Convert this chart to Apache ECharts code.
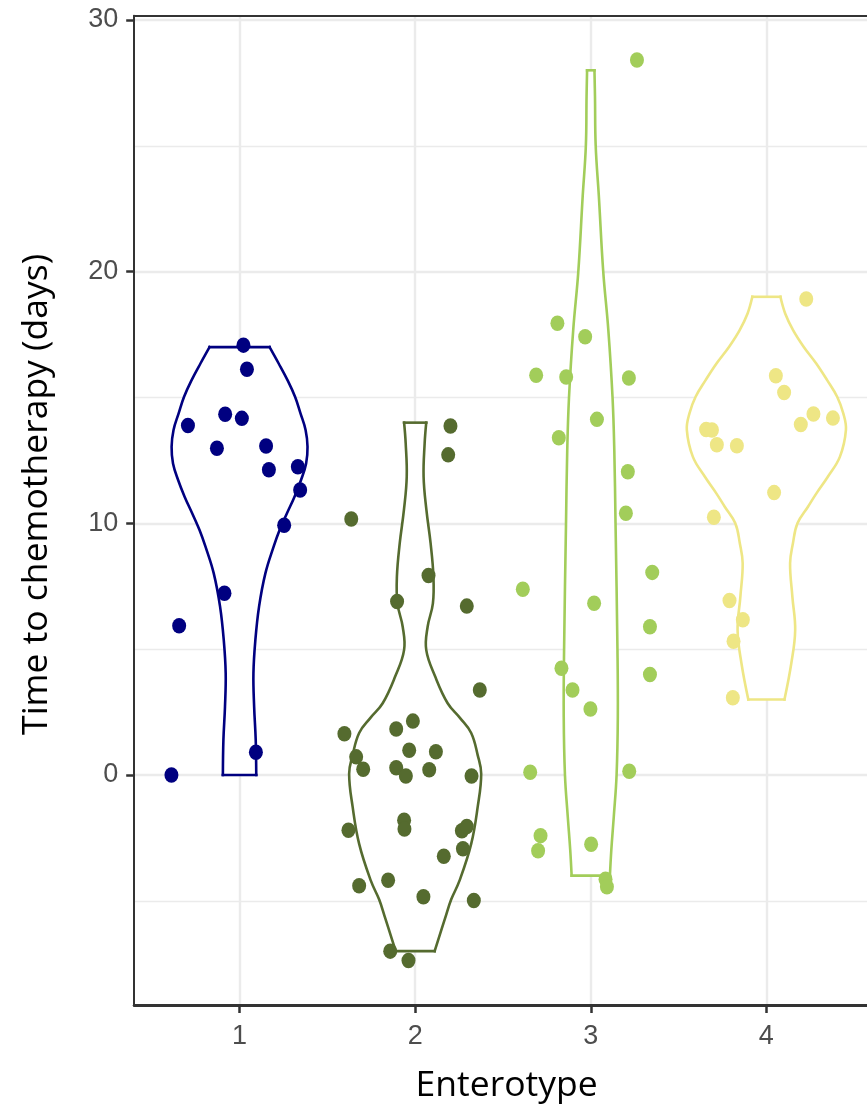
<!DOCTYPE html>
<html>
<head>
<meta charset="utf-8">
<script src="https://cdn.jsdelivr.net/npm/echarts@6/dist/echarts.min.js"></script>
<style>
  html, body { margin: 0; padding: 0; background: #ffffff; }
  #chart { width: 867px; height: 1106px; }
</style>
</head>
<body>
<div id="chart"></div>
<script>
// Enterotype groups and their colours
const enterotypes = [1, 2, 3, 4];
const groupColors = ['#000080', '#556B2F', '#A2CD5A', '#EEE685'];

// Axis breaks
const xTicks = [1, 2, 3, 4];
const yTicks = [0, 10, 20, 30];
const yMinorTicks = [-5, 5, 15, 25];

// Patients: jittered enterotype position and time to chemotherapy (days)
const e1X = [1.022, 1.042, 0.706, 0.918, 1.013, 0.871, 1.151, 1.167, 1.332, 1.345, 1.254, 0.914, 0.656, 1.093, 0.612];
const e1Y = [17.08, 16.12, 13.89, 14.33, 14.17, 12.98, 13.07, 12.13, 12.25, 11.32, 9.92, 7.22, 5.93, 0.90, 0.00];

const e2X = [2.201, 2.188, 1.636, 2.076, 1.897, 2.294, 2.368, 1.597, 1.892, 1.987, 1.966, 2.118, 1.664, 1.704, 1.892, 1.947,
             2.080, 2.321, 1.620, 1.937, 1.939, 2.266, 2.294, 2.272, 2.163, 1.681, 1.846, 2.047, 2.334, 1.858, 1.962];
const e2Y = [13.87, 12.72, 10.17, 7.93, 6.89, 6.71, 3.38, 1.64, 1.83, 2.14, 0.98, 0.92, 0.72, 0.23, 0.29, -0.04,
             0.21, -0.04, -2.20, -1.80, -2.15, -2.22, -2.05, -2.93, -3.23, -4.40, -4.18, -4.84, -4.99, -7.00, -7.37];

const e3X = [3.263, 2.810, 2.968, 2.689, 2.860, 3.217, 3.035, 2.818, 3.211, 3.200, 3.350, 2.613, 3.019, 3.337, 2.833,
             3.337, 2.896, 2.998, 2.655, 3.219, 2.714, 2.700, 3.002, 3.084, 3.092];
const e3Y = [28.41, 17.95, 17.41, 15.88, 15.81, 15.77, 14.13, 13.40, 12.05, 10.40, 8.05, 7.38, 6.82, 5.89, 4.24,
             3.99, 3.38, 2.62, 0.11, 0.15, -2.41, -3.01, -2.75, -4.14, -4.44];

const e4X = [4.227, 4.054, 4.101, 4.268, 4.379, 4.196, 3.657, 3.690, 3.718, 3.832, 4.044, 3.701, 3.790, 3.866, 3.813, 3.809];
const e4Y = [18.91, 15.86, 15.20, 14.34, 14.18, 13.93, 13.73, 13.71, 13.12, 13.08, 11.22, 10.24, 6.93, 6.17, 5.31, 3.07];

// Violin outlines: levels (days) and half-widths (in enterotype units)
const v1Y = [17, 16.36, 15.69, 15.03, 14.37, 13.71, 13.04, 12.38, 11.72, 11.06, 10.4, 9.73, 9.07, 8.01, 6.69, 5.36, 4.04, 2.71, 1.39, 0];
const v1W = [0.171, 0.222, 0.273, 0.316, 0.347, 0.376, 0.387, 0.379, 0.350, 0.313, 0.270, 0.228, 0.194, 0.147, 0.111, 0.090, 0.079, 0.083, 0.092, 0.095];

const v2Y = [14, 13.18, 11.85, 10.53, 9.2, 7.88, 6.82, 5.89, 4.97, 3.91, 2.85, 2.26, 1.67, 0.79, 0.05, -1.27, -2.74, -4.21, -4.95, -5.68, -7];
const v2W = [0.063, 0.054, 0.048, 0.064, 0.088, 0.104, 0.101, 0.071, 0.063, 0.114, 0.185, 0.256, 0.319, 0.356, 0.376, 0.356, 0.319, 0.252, 0.205, 0.171, 0.111];

const v3Y = [28, 26.95, 25, 23, 20, 17.68, 15, 12.9, 10, 4.97, 2.3, 0, -1.66, -2.98, -4.0];
const v3W = [0.021, 0.024, 0.028, 0.046, 0.071, 0.100, 0.124, 0.134, 0.141, 0.152, 0.154, 0.147, 0.131, 0.117, 0.109];

const v4Y = [19, 18.34, 17.68, 17.02, 16.36, 15.69, 15.03, 14.37, 13.71, 12.65, 11.85, 11.19, 10.66, 10, 9.2, 8.41, 7.09, 5.76, 4.44, 3];
const v4W = [0.080, 0.107, 0.152, 0.212, 0.283, 0.346, 0.403, 0.438, 0.453, 0.419, 0.350, 0.285, 0.237, 0.177, 0.151, 0.135, 0.148, 0.164, 0.142, 0.103];

const pointsX = [e1X, e2X, e3X, e4X];
const pointsY = [e1Y, e2Y, e3Y, e4Y];
const violinY = [v1Y, v2Y, v3Y, v4Y];
const violinW = [v1W, v2W, v3W, v4W];

const chart = echarts.init(document.getElementById('chart'), null, { renderer: 'canvas' });

const tickFont = { fontFamily: 'Liberation Sans, Arial, sans-serif', fontSize: 27, color: '#4D4D4D' };
const titleFont = { fontFamily: 'Open Sans, sans-serif', fontSize: 35.5, color: '#000000' };
const gridColor = '#EBEBEB';

function renderViolin(params, api) {
  const g = params.dataIndex;
  const center = enterotypes[g];
  const ys = violinY[g];
  const ws = violinW[g];
  const right = ys.map((y, i) => api.coord([center + ws[i], y]));
  const left = ys.map((y, i) => api.coord([center - ws[i], y]));
  const color = groupColors[g];
  const stroke = { stroke: color, lineWidth: 2.6, fill: null, lineCap: 'square', lineJoin: 'miter' };
  const n = ys.length - 1;
  return {
    type: 'group',
    children: [
      {
        type: 'polygon',
        shape: { points: right.concat(left.slice().reverse()) },
        style: { fill: '#ffffff', stroke: null }
      },
      { type: 'polyline', shape: { points: right, smooth: 0.4 }, style: stroke },
      { type: 'polyline', shape: { points: left, smooth: 0.4 }, style: stroke },
      { type: 'polyline', shape: { points: [left[0], right[0]] }, style: stroke },
      { type: 'polyline', shape: { points: [left[n], right[n]] }, style: stroke }
    ]
  };
}

const series = [
  {
    // light panel grid
    type: 'line',
    data: [],
    silent: true,
    z: 0,
    markLine: {
      silent: true,
      z: 0,
      symbol: ['none', 'none'],
      label: { show: false },
      animation: false,
      data: [
        ...yTicks.map(v => ({ yAxis: v, lineStyle: { color: gridColor, width: 2.4, type: 'solid' } })),
        ...yMinorTicks.map(v => ({ yAxis: v, lineStyle: { color: gridColor, width: 1.4, type: 'solid' } })),
        ...xTicks.map(v => ({ xAxis: v, lineStyle: { color: gridColor, width: 2.4, type: 'solid' } }))
      ]
    }
  },
  {
    type: 'custom',
    z: 2,
    silent: true,
    renderItem: renderViolin,
    data: enterotypes.map(e => [e, 0]),
    encode: { x: 0, y: 1 }
  }
];

enterotypes.forEach((e, g) => {
  series.push({
    type: 'scatter',
    name: String(e),
    z: 3,
    silent: true,
    symbol: 'circle',
    symbolSize: [14, 15.5],
    itemStyle: { color: groupColors[g], opacity: 1 },
    data: pointsX[g].map((x, i) => [x, pointsY[g][i]])
  });
});

chart.setOption({
  animation: false,
  backgroundColor: '#ffffff',
  grid: { left: 134.2, right: 0, top: 15.7, bottom: 101, containLabel: false, outerBoundsMode: 'none' },
  xAxis: [
    {
      type: 'value',
      min: 0.4,
      max: 4.573,
      position: 'bottom',
      name: 'Enterotype',
      nameLocation: 'middle',
      nameGap: 63,
      nameTextStyle: Object.assign({ padding: [0, 0, 0, 12] }, titleFont),
      axisLine: { show: true, onZero: false, lineStyle: { color: '#333333', width: 3 } },
      axisTick: { show: true, length: 8, lineStyle: { color: '#333333', width: 2.5 }, customValues: xTicks },
      axisLabel: Object.assign({ margin: 18, customValues: xTicks }, tickFont),
      splitLine: { show: false }
    },
    {
      type: 'value',
      min: 0.4,
      max: 4.573,
      position: 'top',
      axisLine: { show: true, onZero: false, lineStyle: { color: '#333333', width: 2 } },
      axisTick: { show: false },
      axisLabel: { show: false },
      splitLine: { show: false }
    }
  ],
  yAxis: {
    type: 'value',
    min: -9.14,
    max: 30.17,
    name: 'Time to chemotherapy (days)',
    nameLocation: 'middle',
    nameGap: 79,
    nameTextStyle: Object.assign({ padding: [0, 0, 0, 32] }, titleFont),
    axisLine: { show: true, onZero: false, lineStyle: { color: '#333333', width: 2 } },
    axisTick: { show: true, length: 8, lineStyle: { color: '#333333', width: 2.5 }, customValues: yTicks },
    axisLabel: Object.assign({ margin: 16, customValues: yTicks }, tickFont),
    splitLine: { show: false }
  },
  series: series
});
</script>
</body>
</html>
